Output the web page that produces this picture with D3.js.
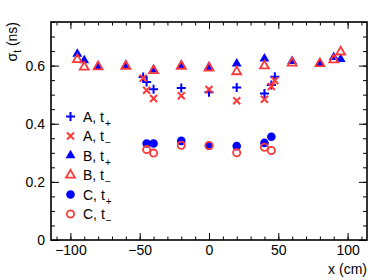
<!DOCTYPE html>
<html>
<head>
<meta charset="utf-8">
<script src="https://cdn.jsdelivr.net/npm/d3@7"></script>
<style>
  body { margin: 0; background: #fff; }
  svg { font-family: "Liberation Sans", Arial, sans-serif; }
</style>
</head>
<body>
<svg id="chart" width="390" height="280"></svg>
<script>
// positions (cm)
const xA = [-47.5, -45, -40, -20, 0, 20, 40, 45, 47.5];
const xB = [-95, -90, -80, -60, -40, -20, 0, 20, 40, 60, 80, 90, 95];
const xC = [-45, -40, -20, 0, 20, 40, 45];

// time resolution (ns)
const aPlus  = [0.561, 0.544, 0.519, 0.523, 0.508, 0.525, 0.504, 0.533, 0.562];
const aMinus = [0.557, 0.515, 0.487, 0.496, 0.518, 0.479, 0.484, 0.528, 0.549];
const bPlus  = [0.640, 0.618, 0.598, 0.601, 0.586, 0.601, 0.595, 0.607, 0.624, 0.615, 0.607, 0.629, 0.622];
const bMinus = [0.621, 0.595, 0.596, 0.598, 0.583, 0.598, 0.592, 0.579, 0.599, 0.609, 0.607, 0.620, 0.647];
const cPlus  = [0.332, 0.332, 0.341, 0.324, 0.323, 0.334, 0.355];
const cMinus = [0.311, 0.299, 0.326, 0.325, 0.300, 0.319, 0.308];

const xTicks = [-100, -50, 0, 50, 100];
const yTicks = [0, 0.2, 0.4, 0.6];

const blue = "#0000ff";
const red = "#ff3838";

const series = [
    { name: "A", sign: "+", xs: xA, ys: aPlus,  marker: "plus",   color: blue },
    { name: "A", sign: "\u2212", xs: xA, ys: aMinus, marker: "cross",  color: red },
    { name: "B", sign: "+", xs: xB, ys: bPlus,  marker: "tri",    color: blue },
    { name: "B", sign: "\u2212", xs: xB, ys: bMinus, marker: "otri",   color: red },
    { name: "C", sign: "+", xs: xC, ys: cPlus,  marker: "dot",    color: blue },
    { name: "C", sign: "\u2212", xs: xC, ys: cMinus, marker: "ocircle", color: red }
];

const svg = d3.select("#chart");
const mLeft = 51, mRight = 367, mTop = 22, mBottom = 240;

const x = d3.scaleLinear().domain([-114, 114]).range([mLeft, mRight]);
const y = d3.scaleLinear().domain([0, 0.75]).range([mBottom, mTop]);

const minorX = d3.range(-110, 111, 10);
const minorY = d3.range(0, 0.751, 0.05);

// minor ticks
svg.append("g").attr("transform", `translate(0,${mBottom})`)
    .call(d3.axisBottom(x).tickValues(minorX).tickSize(-3.5).tickFormat(""));
svg.append("g").attr("transform", `translate(0,${mTop})`)
    .call(d3.axisTop(x).tickValues(minorX).tickSize(-3.5).tickFormat(""));
svg.append("g").attr("transform", `translate(${mLeft},0)`)
    .call(d3.axisLeft(y).tickValues(minorY).tickSize(-4).tickFormat(""));
svg.append("g").attr("transform", `translate(${mRight},0)`)
    .call(d3.axisRight(y).tickValues(minorY).tickSize(-4).tickFormat(""));

// major ticks
svg.append("g").attr("class", "ax").attr("transform", `translate(0,${mBottom})`)
    .call(d3.axisBottom(x).tickValues(xTicks).tickSize(-7).tickPadding(5));
svg.append("g").attr("transform", `translate(0,${mTop})`)
    .call(d3.axisTop(x).tickValues(xTicks).tickSize(-7).tickFormat(""));
svg.append("g").attr("class", "ax").attr("transform", `translate(${mLeft},0)`)
    .call(d3.axisLeft(y).tickValues(yTicks).tickSize(-8).tickPadding(6)
        .tickFormat(d => d === 0 ? "0" : d.toFixed(1)));
svg.append("g").attr("transform", `translate(${mRight},0)`)
    .call(d3.axisRight(y).tickValues(yTicks).tickSize(-8).tickFormat(""));

svg.selectAll(".domain").remove();
svg.selectAll(".tick line").attr("stroke", "#000").attr("stroke-width", 1);
svg.selectAll(".ax text").attr("font-size", 14).attr("fill", "#000")
    .attr("font-family", "Liberation Sans, Arial, sans-serif");

// frame
svg.append("rect")
    .attr("x", mLeft).attr("y", mTop)
    .attr("width", mRight - mLeft).attr("height", mBottom - mTop)
    .attr("fill", "none").attr("stroke", "#000").attr("stroke-width", 1.6);

function drawMarker(g, type, color) {
    if (type === "plus") {
        g.append("path").attr("d", "M-4.5,0H4.5M0,-4.5V4.5")
            .attr("stroke", color).attr("stroke-width", 2).attr("fill", "none");
    } else if (type === "cross") {
        g.append("path").attr("d", "M-3.5,-3.5L3.5,3.5M-3.5,3.5L3.5,-3.5")
            .attr("stroke", color).attr("stroke-width", 2).attr("fill", "none");
    } else if (type === "tri") {
        g.append("path").attr("d", d3.symbol(d3.symbolTriangle, 42)())
            .attr("fill", color);
    } else if (type === "otri") {
        g.append("path").attr("d", d3.symbol(d3.symbolTriangle, 34)())
            .attr("fill", "none").attr("stroke", color).attr("stroke-width", 1.8);
    } else if (type === "dot") {
        g.append("circle").attr("r", 4.3).attr("fill", color);
    } else {
        g.append("circle").attr("r", 3.6).attr("fill", "none")
            .attr("stroke", color).attr("stroke-width", 1.8);
    }
}

// points
series.forEach(s => {
    s.xs.forEach((xv, i) => {
        const g = svg.append("g")
            .attr("transform", `translate(${x(xv)},${y(s.ys[i])})`);
        drawMarker(g, s.marker, s.color);
    });
});

// legend
const legend = svg.append("g");
series.forEach((s, i) => {
    const yy = 116.5 + i * 19.5;
    const g = legend.append("g").attr("transform", `translate(70.5,${yy})`);
    drawMarker(g, s.marker, s.color);
    const t = legend.append("text")
        .attr("x", 83).attr("y", yy + 5)
        .attr("font-size", 14).attr("fill", "#000");
    t.append("tspan").text(`${s.name}, t`);
    t.append("tspan").attr("dy", 5).attr("dx", 1).attr("font-size", 10).text(s.sign);
});

// axis titles
svg.append("text")
    .attr("x", mRight).attr("y", 274)
    .attr("text-anchor", "end").attr("font-size", 14)
    .text("x (cm)");

const yl = svg.append("text")
    .attr("transform", `translate(17,${mTop}) rotate(-90)`)
    .attr("text-anchor", "end").attr("font-size", 14);
yl.append("tspan").text("\u03c3");
yl.append("tspan").attr("dy", 4).attr("font-size", 10).text("t");
yl.append("tspan").attr("dy", -4).text(" (ns)");
</script>
</body>
</html>
